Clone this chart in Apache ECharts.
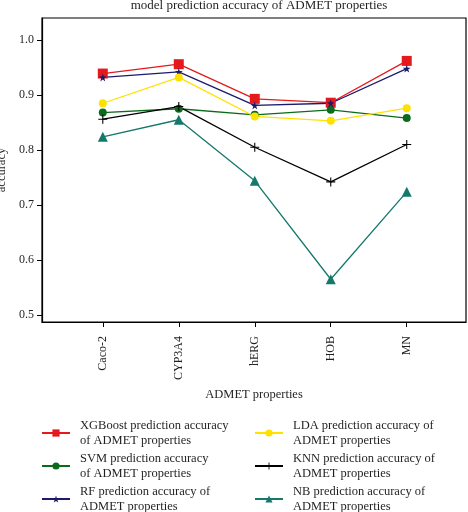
<!DOCTYPE html>
<html><head><meta charset="utf-8">
<script src="https://cdn.jsdelivr.net/npm/echarts@6/dist/echarts.min.js"></script>
<style>html,body{margin:0;padding:0;background:#fff}#c{width:468px;height:512px}</style>
</head><body><div id="c"></div>
<script>
const categories = ['Caco-2', 'CYP3A4', 'hERG', 'HOB', 'MN'];
const xgboost = [0.939, 0.956, 0.893, 0.886, 0.962];
const svm = [0.868, 0.875, 0.864, 0.873, 0.858];
const rf = [0.932, 0.942, 0.881, 0.885, 0.948];
const lda = [0.885, 0.932, 0.861, 0.853, 0.876];
const knn = [0.856, 0.879, 0.805, 0.742, 0.810];
const nb = [0.824, 0.855, 0.744, 0.565, 0.724];
const yTicks = [0.5, 0.6, 0.7, 0.8, 0.9, 1.0];
const seriesNames = [
  'XGBoost prediction accuracy of ADMET properties',
  'SVM prediction accuracy of ADMET properties',
  'RF prediction accuracy of ADMET properties',
  'LDA prediction accuracy of ADMET properties',
  'KNN prediction accuracy of ADMET properties',
  'NB prediction accuracy of ADMET properties'
];
const legendLabels = {
  'XGBoost prediction accuracy of ADMET properties': 'XGBoost prediction accuracy\nof ADMET properties',
  'SVM prediction accuracy of ADMET properties': 'SVM prediction accuracy\nof ADMET properties',
  'RF prediction accuracy of ADMET properties': 'RF prediction accuracy of\nADMET properties',
  'LDA prediction accuracy of ADMET properties': 'LDA prediction accuracy of\nADMET properties',
  'KNN prediction accuracy of ADMET properties': 'KNN prediction accuracy of\nADMET properties',
  'NB prediction accuracy of ADMET properties': 'NB prediction accuracy of\nADMET properties'
};
const xPos = categories.map((c, i) => i + 1);
const font = 'Liberation Serif';
const txt = '#231f20';
const plus = 'path://M4.4,0h1.2v4.4h4.4v1.2h-4.4v4.4h-1.2v-4.4h-4.4v-1.2h4.4z';
const star = 'path://M50,0L61.2,34.5L97.6,34.5L68.2,55.9L79.4,90.5L50,69.1L20.6,90.5L31.8,55.9L2.4,34.5L38.8,34.5Z';

function mk(name, vals, color, symbol, size) {
  return {
    name, type: 'line', data: vals.map((v, i) => [xPos[i], v]),
    symbol, symbolSize: size, showSymbol: true,
    lineStyle: { color, width: 1.3 }, itemStyle: { color },
    emphasis: { disabled: true }, animation: false
  };
}
const chart = echarts.init(document.getElementById('c'), null, { renderer: 'canvas' });
const legendCommon = {
  orient: 'vertical', padding: 0, itemWidth: 28, itemHeight: 9, itemGap: 3, height: 140,
  textStyle: { fontFamily: font, fontSize: 12.5, color: txt, lineHeight: 15, padding: [0, 0, 0, 5] },
  formatter: n => legendLabels[n], selectedMode: false
};
chart.setOption({
  animation: false,
  title: {
    text: 'model prediction accuracy of ADMET properties', left: 254, top: -6, textAlign: 'center',
    textStyle: { fontFamily: font, fontSize: 13, fontWeight: 'normal', color: txt }
  },
  grid: { left: 42, top: 18, right: 2, bottom: 190, show: true, borderColor: '#000', borderWidth: 1.2, containLabel: false, outerBoundsMode: 'none' },
  legend: [
    Object.assign({ left: 41, top: 418, data: [seriesNames[0], seriesNames[1], seriesNames[2]] }, legendCommon),
    Object.assign({ left: 254, top: 418, data: [seriesNames[3], seriesNames[4], seriesNames[5]] }, legendCommon)
  ],
  xAxis: {
    type: 'value', min: 0.2, max: 5.78,
    name: 'ADMET properties', nameLocation: 'middle', nameGap: 64,
    nameTextStyle: { fontFamily: font, fontSize: 12.5, color: txt },
    axisLine: { show: true, lineStyle: { color: '#000', width: 1.2 } },
    axisTick: { show: true, customValues: xPos, length: 5, lineStyle: { color: '#000' } },
    axisLabel: { customValues: xPos, rotate: 90, margin: 14, fontFamily: font, fontSize: 12, color: txt,
      formatter: v => categories[Math.round(v) - 1] || '' },
    splitLine: { show: false }
  },
  yAxis: {
    type: 'value', min: 0.4873, max: 1.04,
    name: 'accuracy', nameLocation: 'middle', nameGap: 33, nameRotate: 90,
    nameTextStyle: { fontFamily: font, fontSize: 12.5, color: txt },
    axisLine: { show: true, lineStyle: { color: '#000', width: 1.2 } },
    axisTick: { show: true, customValues: yTicks, length: 5, lineStyle: { color: '#000' } },
    axisLabel: { customValues: yTicks, margin: 8, fontFamily: font, fontSize: 12, color: txt,
      formatter: v => v.toFixed(1) },
    splitLine: { show: false }
  },
  series: [
    mk(seriesNames[0], xgboost, '#e41a1c', 'rect', 10),
    mk(seriesNames[1], svm, '#0b6b1d', 'circle', 8),
    mk(seriesNames[2], rf, '#1b1a6b', star, 8),
    mk(seriesNames[3], lda, '#ffe100', 'circle', 8),
    mk(seriesNames[4], knn, '#000000', plus, 9),
    mk(seriesNames[5], nb, '#14796b', 'triangle', 10)
  ]
});
</script></body></html>
